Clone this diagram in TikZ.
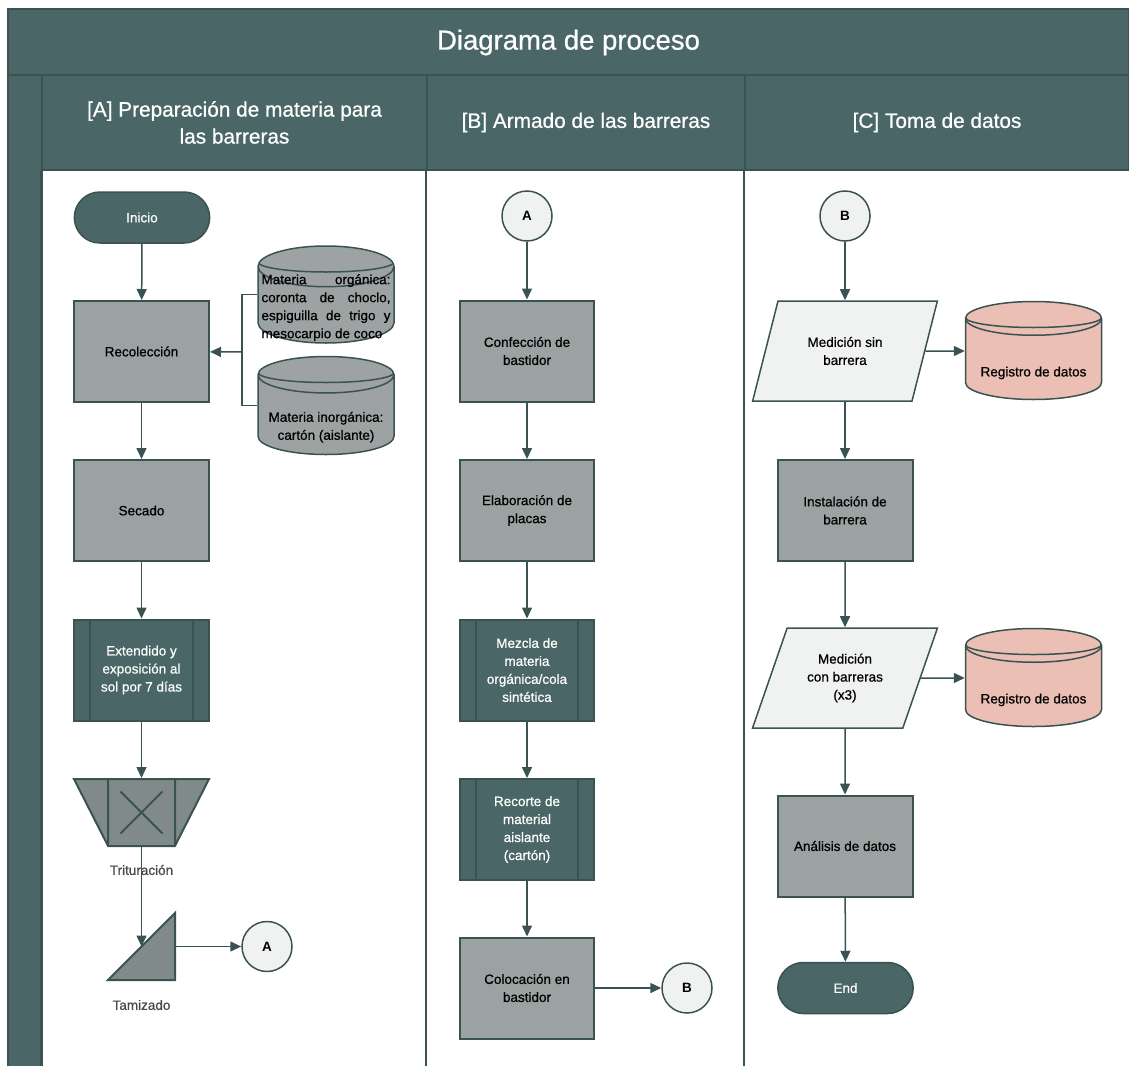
\documentclass[tikz,border=0pt]{standalone}
\usepackage{fontspec}
\setmainfont{Liberation Sans}[BoldFont={Liberation Sans}, BoldFeatures={FakeBold=0.7}]
\newfontfamily\heavyfont{Liberation Sans Bold}
\usetikzlibrary{positioning,arrows.meta,shapes.geometric,shapes.misc,calc}

\definecolor{lanefill}{HTML}{4A6667}
\definecolor{laneline}{HTML}{3B5253}
\definecolor{procfill}{HTML}{9AA2A2}
\definecolor{cylfill}{HTML}{9DA3A3}
\definecolor{tritfill}{HTML}{808A88}
\definecolor{regfill}{HTML}{EBBFB4}
\definecolor{connfill}{HTML}{F0F2F1}

\newcommand\boxfont{\fontsize{13.5}{18}\selectfont\bfseries}
% text of a cylinder, lowered below the lid
\newcommand\cyltext[2]{\raisebox{#1}[0pt][0pt]{\begin{tabular}{@{}c@{}}#2\end{tabular}}}

\begin{document}
\begin{tikzpicture}[
  x=1pt, y=-1pt,
  lane/.style={draw=laneline, fill=lanefill, line width=2.5pt},
  hdr/.style={lane, text=white, align=center, inner sep=0pt,
              font=\fontsize{20.8}{27}\selectfont\bfseries},
  proc/.style={draw=laneline, fill=procfill, line width=2pt, minimum width=135pt,
               minimum height=101pt, align=center, font=\boxfont, inner sep=2pt},
  pred/.style={proc, fill=lanefill, text=white,
    path picture={\draw[laneline, line width=2pt]
      ([xshift=16pt]path picture bounding box.north west) -- ([xshift=16pt]path picture bounding box.south west)
      ([xshift=-16pt]path picture bounding box.north east) -- ([xshift=-16pt]path picture bounding box.south east);}},
  term/.style={rounded rectangle, draw=laneline, fill=lanefill, text=white, line width=1.5pt,
               minimum width=142pt, minimum height=51pt, font=\boxfont},
  conn/.style={circle, draw=laneline, fill=connfill, line width=1.5pt, minimum size=50pt,
               inner sep=0pt, font=\fontsize{13.5}{18}\heavyfont},
  io/.style={trapezium, trapezium left angle=66, trapezium right angle=114, trapezium stretches=true,
             draw=laneline, fill=connfill, line width=1.5pt, minimum width=185pt,
             minimum height=100pt, align=center, font=\boxfont},
  db/.style={cylinder, shape border rotate=90, aspect=0.3, draw=laneline, fill=#1, line width=1.5pt,
             minimum width=136pt, minimum height=98pt, font=\boxfont, anchor=shape center,
    path picture={\draw[laneline, line width=1.5pt]
      ([yshift=-16pt]path picture bounding box.north west)
        arc[start angle=180, end angle=360, x radius=68pt, y radius=10pt];}},
  trit/.style={trapezium, trapezium angle=63, shape border rotate=180, trapezium stretches=true,
               draw=laneline, fill=tritfill, line width=2pt, minimum width=135pt, minimum height=67pt,
    path picture={\draw[laneline, line width=2pt]
      ([xshift=-33.5pt]path picture bounding box.north) -- ([xshift=-33.5pt]path picture bounding box.south)
      ([xshift=33.5pt]path picture bounding box.north) -- ([xshift=33.5pt]path picture bounding box.south)
      ([shift={(-21pt,-21pt)}]path picture bounding box.center) -- ([shift={(21pt,21pt)}]path picture bounding box.center)
      ([shift={(-21pt,21pt)}]path picture bounding box.center) -- ([shift={(21pt,-21pt)}]path picture bounding box.center);}},
  arr/.style={-{Triangle[length=11pt,width=10pt]}, draw=laneline, line width=1.5pt},
  ln/.style={draw=laneline, line width=1.5pt},
  lbl/.style={font=\boxfont, text=black!72},
]
\useasboundingbox (0,0) rectangle (1129,1065);

% lanes
\node[hdr, minimum width=1121pt, minimum height=67pt, font=\fontsize{27.5}{30}\selectfont\bfseries]
  (title) at (568.5,42.5) {Diagrama de proceso};
\draw[lane] (8,75) rectangle (42,1070);
\node[hdr, minimum width=385pt, minimum height=95pt] (hA) at (234.5,122.5)
  {[A] Preparación de materia para\\las barreras};
\node[hdr, minimum width=318pt, minimum height=95pt] (hB) at (586,122.5) {[B] Armado de las barreras};
\node[hdr, minimum width=384pt, minimum height=95pt] (hC) at (937,122.5) {[C] Toma de datos};
\foreach \h in {hA,hB,hC}
  \draw[laneline, line width=2pt] (\h.south west) -- ++(0,900);

% column A
\node[term] (ini) at (142,217.5) {Inicio};
\node[proc] (rec) at (141.5,351.5) {Recolección};
\node[db=cylfill, minimum height=97pt] (org) at (326,294.5)
  {\raisebox{-3pt}[0pt][0pt]{\parbox[c]{129pt}{\hyphenpenalty=10000
   Materia orgánica:\linebreak coronta de choclo,\linebreak espiguilla de trigo y\linebreak mesocarpio de coco}}};
\node[db=cylfill] (inorg) at (326,405.5) {\cyltext{-13pt}{Materia inorgánica:\\cartón (aislante)}};
\node[proc] (sec) at (141.5,510.5) {Secado};
\node[pred] (ext) at (141.5,670) {Extendido y\\exposición al\\sol por 7 días};
\node[trit] (trit) at (141.5,812.5) {};
\node[minimum size=67pt, inner sep=0pt] (tam) at (141.5,946.5) {};
\draw[draw=laneline, fill=tritfill, line width=2pt] (tam.south west) -- (tam.north east) -- (tam.south east) -- cycle;
\node[conn] (conA1) at (267,946.5) {A};

% column B
\node[conn] (conA2) at (527,216) {A};
\node[proc, minimum width=134pt] (conf) at (527,351) {Confección de\\bastidor};
\node[proc, minimum width=134pt] (elab) at (527,510.5) {Elaboración de\\placas};
\node[pred, minimum width=134pt] (mez) at (527,670) {Mezcla de\\materia\\orgánica/cola\\sintética};
\node[pred, minimum width=134pt] (rcrt) at (527,829.5) {Recorte de\\material\\aislante\\(cartón)};
\node[proc, minimum width=134pt] (col) at (527,988) {Colocación en\\bastidor};
\node[conn] (conB1) at (687,988) {B};

% column C
\node[conn] (conB2) at (845,216) {B};
\node[io] (med1) at (845,351) {Medición sin\\barrera};
\node[db=regfill] (reg1) at (1033.5,350.5) {\cyltext{-14.5pt}{Registro de datos}};
\node[proc] (inst) at (845,510.5) {Instalación de\\barrera};
\node[io] (med2) at (845,678) {Medición\\con barreras\\(x3)};
\node[db=regfill] (reg2) at (1033.5,677.5) {\cyltext{-14.5pt}{Registro de datos}};
\node[proc] (ana) at (845,846) {Análisis de datos};
\node[term] (fin) at (845.5,988) {End};

% connectors
\coordinate (jA) at (242,352);
\draw[ln] (org.shape center -| org.west) -| (jA) |- (inorg.shape center -| inorg.west);
\draw[arr] (jA) -- (rec);
\draw[arr] (ini) -- (rec);
\draw[arr] (rec) -- (sec);
\draw[arr] (sec) -- (ext);
\draw[arr] (ext) -- (trit);
\draw[arr] (trit) -- (tam.center);
\draw[arr] (tam.east) -- (conA1);
\node[lbl] (tritl) at (141.5,870) {Trituración};
\node[lbl] (taml) at (141.5,1005) {Tamizado};

\draw[arr] (conA2) -- (conf);
\draw[arr] (conf) -- (elab);
\draw[arr] (elab) -- (mez);
\draw[arr] (mez) -- (rcrt);
\draw[arr] (rcrt) -- (col);
\draw[arr] (col) -- (conB1);

\draw[arr] (conB2) -- (med1);
\draw[arr] (med1) -- (med1 -| reg1.west);
\draw[arr] (med1) -- (inst);
\draw[arr] (inst) -- (med2);
\draw[arr] (med2) -- (med2 -| reg2.west);
\draw[arr] (med2) -- (ana);
\draw[arr] (ana) -- (fin);
\end{tikzpicture}
\end{document}
